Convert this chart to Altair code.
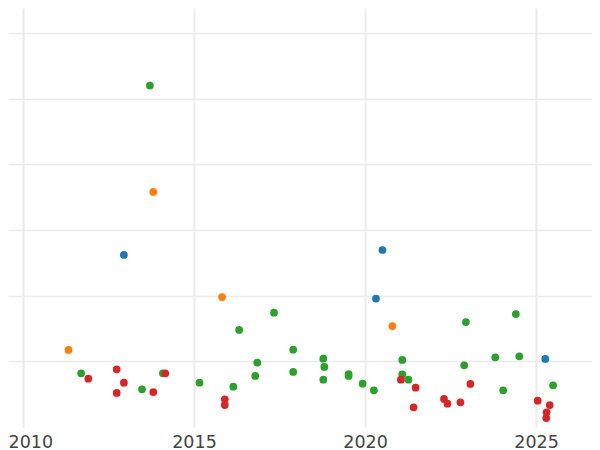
import altair as alt
import pandas as pd

# Series values (x = decimal year, y = value)
blue_x = [2012.95, 2020.51, 2020.32, 2025.27]
blue_y = [26.2, 26.96, 19.57, 10.36]

orange_x = [2011.33, 2013.81, 2015.82, 2020.80]
orange_y = [11.73, 35.8, 19.8, 15.38]

green_x = [2013.71, 2011.70, 2013.48, 2014.09, 2015.16, 2016.15, 2016.32, 2016.79,
           2016.85, 2017.34, 2017.90, 2017.90, 2018.78, 2018.81, 2018.78, 2019.52,
           2019.52, 2019.93, 2020.26, 2021.09, 2021.09, 2021.27, 2022.95, 2022.90,
           2023.81, 2024.04, 2024.41, 2024.51, 2025.50]
green_y = [52.0, 8.18, 5.74, 8.18, 6.75, 6.14, 14.78, 7.77,
           9.79, 17.41, 11.77, 8.38, 10.4, 9.14, 7.2, 8.07,
           7.77, 6.6, 5.59, 10.21, 8.03, 7.2, 15.99, 9.4,
           10.62, 5.59, 17.21, 10.77, 6.35]

red_x = [2011.91, 2012.74, 2012.95, 2012.74, 2013.81, 2014.16, 2015.90, 2015.90,
         2021.05, 2021.48, 2021.42, 2022.31, 2022.41, 2022.79, 2023.08, 2025.05,
         2025.40, 2025.31, 2025.30]
red_y = [7.36, 8.79, 6.75, 5.18, 5.33, 8.18, 4.22, 3.35,
         7.2, 5.99, 3.0, 4.27, 3.55, 3.76, 6.55, 4.01,
         3.35, 2.24, 1.37]

series_names = ["Series A", "Series B", "Series C", "Series D"]
series_colors = ["#1f77b4", "#ff7f0e", "#2ca02c", "#d62728"]
x_ticks = [2010, 2015, 2020, 2025]
y_ticks = [10, 20, 30, 40, 50, 60]

rows = []
for name, xs, ys in zip(series_names,
                        [blue_x, orange_x, green_x, red_x],
                        [blue_y, orange_y, green_y, red_y]):
    for xv, yv in zip(xs, ys):
        rows.append({"year": xv, "value": yv, "series": name})
df = pd.DataFrame(rows)

chart = alt.Chart(df).mark_circle(size=60, opacity=1).encode(
    x=alt.X("year:Q",
            scale=alt.Scale(domain=[2009.5614, 2026.637], nice=False, zero=False),
            axis=alt.Axis(values=x_ticks, format="d", title=None, domain=False,
                          ticks=False, tickSize=0, labelPadding=6,
                          labelFlush=20, labelFlushOffset=15,
                          labelFontSize=17.5, labelFont="DejaVu Sans",
                          labelColor="#444444", gridColor="#ebebeb",
                          gridWidth=2)),
    y=alt.Y("value:Q",
            scale=alt.Scale(domain=[0, 63.82], nice=False, zero=False),
            axis=alt.Axis(values=y_ticks, labels=False, title=None, domain=False,
                          ticks=False, gridColor="#ebebeb", gridWidth=1.3)),
    color=alt.Color("series:N",
                    scale=alt.Scale(domain=series_names, range=series_colors),
                    legend=None),
).properties(
    width=584,
    height=419,
    padding={"left": 0, "top": 0, "right": 0, "bottom": 23},
    autosize=alt.AutoSizeParams(type="none"),
).configure_view(stroke=None)

chart.save("out.html", embed_options={"renderer": "svg", "actions": False})
